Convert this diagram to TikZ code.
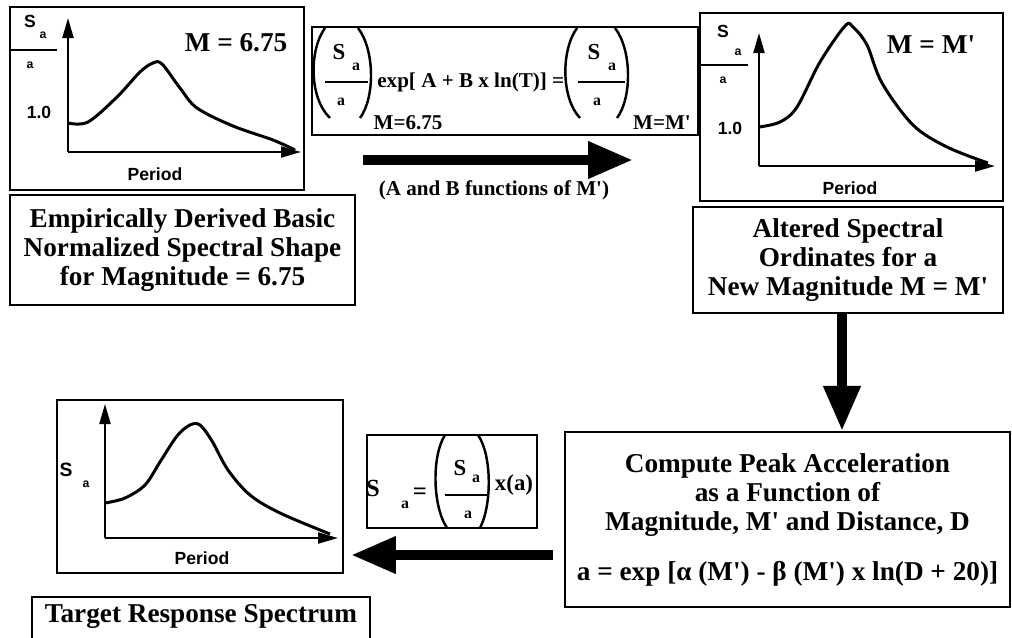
\documentclass[tikz,border=0pt]{standalone}
\usepackage{fontspec}
\setmainfont{Liberation Serif}
\newfontfamily\hv{Liberation Sans}
\usetikzlibrary{arrows.meta}
\newcommand{\tickmark}{\textquotesingle}
\tikzset{
  panel/.style={draw,line width=1.2pt,inner sep=0pt},
  tbox/.style={draw,line width=1.2pt,align=center,inner sep=0pt,font=\bfseries\fontsize{15.5}{16.5}\selectfont},
  axisline/.style={line width=1.2pt,-{Triangle[length=0.4cm,width=0.22cm]}},
  spec/.style={line width=1.7pt,line join=round},
  fatarrow/.style={line width=0.2cm,-{Triangle[length=0.9cm,width=0.7cm]}},
  parenline/.style={line width=1.4pt},
  barline/.style={line width=1.2pt},
  axlab/.style={inner sep=0pt,font=\hv\bfseries\fontsize{10}{12}\selectfont},
  axsub/.style={inner sep=0pt,font=\hv\bfseries\fontsize{7}{8}\selectfont},
  big/.style={inner sep=0pt,font=\bfseries\fontsize{15.5}{16.5}\selectfont},
  eqtxt/.style={inner sep=0pt,font=\bfseries\fontsize{12}{14}\selectfont},
  eqsub/.style={inner sep=0pt,font=\bfseries\fontsize{9}{10}\selectfont}
}
\begin{document}
\begin{tikzpicture}[x=0.02cm,y=-0.02cm]
  \useasboundingbox (0,0) rectangle (1012,637);

  % basic shape, M = 6.75
  \node[panel,minimum width=5.88cm,minimum height=3.66cm] (plotA) at (157,98.5) {};
  \draw[axisline] (68,152) -- (68,18);
  \draw[axisline] (68,152) -- (301,152);
  \draw[spec] plot[smooth,tension=0.55] coordinates {(68,123) (88,122) (117,97) (140,72) (153,63) (162,64) (180,88) (197,108) (233,126) (273,140) (295,150)};
  \node[axlab] (sA) at (30,21) {S};
  \node[axsub] (saA) at (43,35) {a};
  \draw[barline] (10,50) -- (57,50);
  \node[axsub] (aA) at (30,65) {a};
  \node[axlab] (oneA) at (39,112) {1.0};
  \node[axlab] (perA) at (155,174) {Period};
  \node[big] (magA) at (236,43) {M = 6.75};
  \node[tbox,minimum width=6.9cm,minimum height=2.2cm] (basic) at (182.5,250)
    {Empirically Derived Basic\\ Normalized Spectral Shape\\ for Magnitude = 6.75};

  % scaling relation
  \node[panel,minimum width=7.72cm,minimum height=2.16cm] (eqbox) at (505,81) {};
  \draw[parenline] (325,28) .. controls (309,50) and (309,98) .. (330,118);
  \draw[parenline] (358,28) .. controls (375,50) and (375,98) .. (360,118);
  \draw[barline] (325,82) -- (368,82);
  \node[eqtxt,font=\bfseries\fontsize{13}{14}\selectfont] (eqS1) at (339,52) {S};
  \node[eqsub] (eqa1) at (356,67) {a};
  \node[eqsub] (eqb1) at (341,102) {a};
  \node[eqtxt,anchor=west] (eqexp) at (377,82) {exp[ A + B x ln(T)] =};
  \draw[parenline] (577,28) .. controls (561,50) and (561,98) .. (580,118);
  \draw[parenline] (615,28) .. controls (632,50) and (632,98) .. (617,118);
  \draw[barline] (578,82) -- (625,82);
  \node[eqtxt,font=\bfseries\fontsize{13}{14}\selectfont] (eqS2) at (594,52) {S};
  \node[eqsub] (eqa2) at (612,67) {a};
  \node[eqsub] (eqb2) at (597,102) {a};
  \node[eqtxt] (eqm1) at (408,123) {M=6.75};
  \node[eqtxt] (eqm2) at (662,123) {M=M\tickmark};
  \coordinate (r1) at (363,160);
  \coordinate (r2) at (633,160);
  \draw[fatarrow] (r1) -- (r2);
  \node[eqtxt] (abnote) at (494,190) {(A and B functions of M\tickmark)};

  % altered shape, M = M'
  \node[panel,minimum width=6.06cm,minimum height=3.76cm] (plotB) at (851.5,107) {};
  \draw[axisline] (759,166) -- (759,33);
  \draw[axisline] (759,166) -- (995,166);
  \draw[spec] plot[smooth,tension=0.55] coordinates {(759,127) (780,122) (797,107) (820,62) (845,26) (853,27) (867,45) (882,83) (913,125) (947,147) (988,163)};
  \node[axlab] (sB) at (723,31) {S};
  \node[axsub] (saB) at (738,52) {a};
  \draw[barline] (700,65) -- (748,65);
  \node[axsub] (aB) at (723,80) {a};
  \node[axlab] (oneB) at (730,128) {1.0};
  \node[axlab] (perB) at (850,188) {Period};
  \node[big] (magB) at (931,45) {M = M\tickmark};
  \node[tbox,minimum width=6.2cm,minimum height=2.12cm] (alt) at (848,260)
    {Altered Spectral\\ Ordinates for a\\ New Magnitude M = M\tickmark};

  % peak acceleration
  \node[tbox,minimum width=8.9cm,minimum height=3.5cm] (comp) at (787.5,519.5)
    {Compute Peak Acceleration\\ as a Function of\\ Magnitude, M\tickmark\ and Distance, D\\[0.42cm]
     a = exp [α (M\tickmark) - β (M\tickmark) x ln(D + 20)]};
  \draw[fatarrow] ([xshift=-0.12cm]alt.south) -- ([xshift=-0.12cm]alt.south |- comp.north);

  % target spectrum
  \node[panel,minimum width=3.4cm,minimum height=1.86cm] (sabox) at (452,481.5) {};
  \node[eqtxt,font=\bfseries\fontsize{14}{16}\selectfont] (sT) at (373,488) {S};
  \node[eqsub] (saT) at (405,505) {a};
  \node[eqtxt,font=\bfseries\fontsize{14}{16}\selectfont] (eqT) at (420,494) {=};
  \draw[parenline] (445,435) .. controls (432,455) and (432,505) .. (447,528);
  \draw[parenline] (478,435) .. controls (492,455) and (492,505) .. (480,528);
  \draw[barline] (445,495) -- (488,495);
  \node[eqtxt,font=\bfseries\fontsize{13}{14}\selectfont] (sF) at (460,468) {S};
  \node[eqsub] (saF) at (476,479) {a};
  \node[eqsub] (aF) at (468,515) {a};
  \node[eqtxt,font=\bfseries\fontsize{13}{14}\selectfont] (xa) at (514,485) {x(a)};
  \coordinate (l1) at (553,555);
  \coordinate (l2) at (351,555);
  \draw[fatarrow] (l1) -- (l2);

  \node[panel,minimum width=5.72cm,minimum height=3.46cm] (plotC) at (200,486.5) {};
  \draw[axisline] (105,538) -- (105,404);
  \draw[axisline] (105,538) -- (338,538);
  \draw[spec] plot[smooth,tension=0.55] coordinates {(105,503) (125,498) (145,485) (160,462) (177,436) (190,425) (200,425) (212,441) (228,470) (250,495) (280,513) (330,534)};
  \node[axlab,font=\hv\bfseries\fontsize{11}{12}\selectfont] (sC) at (66,470) {S};
  \node[axsub] (saC) at (86,484) {a};
  \node[axlab] (perC) at (202,558) {Period};
  \node[tbox,anchor=north,minimum width=6.76cm,text depth=1cm,inner ysep=4pt] (target) at (201,596)
    {Target Response Spectrum};
\end{tikzpicture}
\end{document}
